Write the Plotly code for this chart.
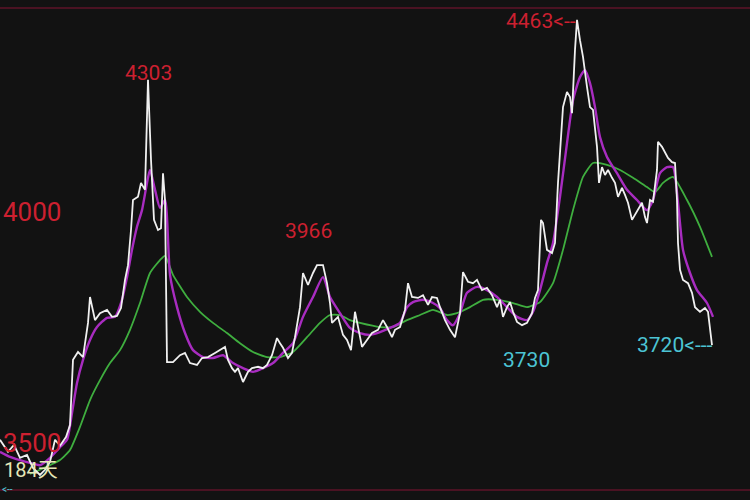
import plotly.graph_objects as go

# ---- data (day index, price) ----
price_days = [0, 2, 3.5, 5, 6.75, 8.25, 10, 11.25, 12.5, 13.75, 15, 16.5, 17.5, 18.25, 19.5, 20.75,
              22, 22.5, 23.75, 25, 26.75, 28, 29.25, 30.25, 31.25, 32, 32.75, 33.25, 34.5, 35.25,
              36.25, 37, 37.75, 38.5, 39.5, 40.25, 40.75, 41.25, 41.75, 43.25, 45, 46.25, 47.5,
              49.25, 50.5, 52, 53.75, 55, 56.25, 57, 58, 58.75, 59.5, 60.75, 62, 63, 64.5, 65.75,
              66.75, 68, 69.25, 70, 70.75, 72, 73, 73.75, 75, 75.75, 77, 78.25, 79.25, 80.75, 81.75,
              82.5, 83, 84.5, 85.75, 86.75, 87.75, 88.75, 89.5, 90.5, 91.75, 93, 94.5, 95.75, 96.75,
              98, 98.75, 100, 101.25, 102, 103, 104.5, 105.75, 107, 108, 109.25, 110, 111.25, 112.5,
              113.75, 115, 115.75, 117, 118.25, 119.25, 120.5, 121.75, 123, 124.25, 125, 125.75,
              126.75, 127.5, 128.25, 129.25, 130.5, 131.75, 133, 133.75, 134.5, 135.25, 135.75,
              136.75, 138, 138.75, 139.5, 140.75, 141.75, 142.5, 143, 143.75, 144.25, 145, 145.75,
              146.75, 147.5, 148.25, 149.25, 149.75, 150.5, 151.25, 152, 153, 153.75, 154.5, 155.5,
              156.25, 157, 158, 158.75, 159.5, 160.5, 161.25, 161.75, 162.5, 163.25, 164.25, 164.5,
              165.5, 166.25, 167, 168, 168.75, 169.25, 169.5, 170, 170.75, 172, 173, 173.75, 175,
              176.25, 177, 178]
close_price = [3507, 3481, 3496, 3468, 3474, 3446, 3431, 3442, 3459, 3507, 3494, 3513, 3539, 3680,
               3697, 3686, 3760, 3816, 3766, 3781, 3788, 3773, 3775, 3792, 3853, 3885, 3961, 4026,
               4033, 4063, 4048, 4286, 4113, 3983, 3961, 3965, 4084, 4026, 3675, 3675, 3690, 3695,
               3673, 3669, 3684, 3686, 3695, 3701, 3708, 3680, 3662, 3654, 3662, 3632, 3654, 3662,
               3665, 3662, 3669, 3690, 3727, 3716, 3706, 3684, 3695, 3729, 3794, 3868, 3842, 3868,
               3885, 3885, 3846, 3803, 3760, 3773, 3734, 3723, 3701, 3784, 3751, 3708, 3723, 3738,
               3745, 3766, 3751, 3729, 3745, 3751, 3788, 3846, 3816, 3814, 3820, 3799, 3816, 3814,
               3794, 3766, 3745, 3729, 3781, 3870, 3849, 3846, 3853, 3831, 3836, 3820, 3794, 3810,
               3773, 3794, 3805, 3784, 3762, 3755, 3760, 3781, 3814, 3831, 3983, 3976, 3918, 3911,
               3933, 4063, 4227, 4260, 4249, 4214, 4351, 4416, 4372, 4336, 4271, 4227, 4221, 4141,
               4063, 4097, 4080, 4091, 4074, 4063, 4033, 4052, 4037, 4020, 3983, 3994, 4004, 4020,
               3989, 3976, 4026, 4022, 4091, 4152, 4141, 4128, 4117, 4108, 4106, 4026, 3933, 3875,
               3853, 3846, 3825, 3794, 3784, 3792, 3784, 3712]

ma_short_days = [0, 2.5, 5, 7.5, 10, 12.5, 15, 16.75, 18, 19.25, 20.75, 22.5, 24.25, 26.75, 28.75,
                 30.5, 31.75, 33, 34.25, 35.5, 36.75, 37.5, 38.75, 40, 41.25, 42.5, 44.25, 46.25,
                 48.25, 50.75, 53.25, 55.75, 58.25, 60.75, 63.25, 65.75, 68.25, 70.75, 73.25, 75.75,
                 78.25, 80.75, 82.5, 85, 87.5, 90, 92.5, 95, 97.5, 100, 101.75, 103.25, 105.75,
                 108.25, 110, 111.75, 113.25, 115, 116.75, 119.25, 121.75, 124.25, 126.75, 129.25,
                 131.75, 133.25, 135, 136.75, 138.25, 140, 141.75, 143.25, 145, 146.25, 147.5,
                 148.75, 150, 151.75, 154.25, 156.75, 159.25, 161.75, 163.25, 165, 166.75, 168.25,
                 169.5, 170.75, 172.5, 174.25, 176.75, 178.25]
ma_short = [3481, 3470, 3463, 3457, 3452, 3468, 3491, 3507, 3565, 3630, 3680, 3723, 3751, 3771,
            3773, 3810, 3859, 3918, 3968, 4004, 4063, 4091, 4048, 4009, 4026, 3864, 3794, 3738,
            3701, 3686, 3684, 3690, 3673, 3662, 3654, 3662, 3673, 3695, 3716, 3773, 3816, 3859,
            3816, 3781, 3749, 3738, 3734, 3740, 3749, 3760, 3794, 3805, 3810, 3803, 3792, 3766,
            3755, 3781, 3825, 3838, 3831, 3816, 3794, 3773, 3766, 3784, 3831, 3890, 3933, 4033,
            4149, 4242, 4292, 4307, 4279, 4227, 4162, 4119, 4084, 4048, 4026, 4004, 4026, 4084,
            4097, 4097, 4020, 3918, 3868, 3831, 3803, 3773]

ma_long_days = [7.5, 10, 12.5, 15, 17.5, 20, 22.5, 25, 27.5, 30, 32.5, 35, 37.5, 40, 41.25, 43.25,
                46.75, 50, 53.25, 56.75, 60, 63.25, 66.75, 70, 73.25, 76.75, 80, 82.5, 85, 87.5,
                90, 95, 98.25, 101.75, 105, 108.25, 111.75, 114.25, 117.5, 120.75, 124.25, 128.25,
                131.75, 135, 138.25, 140.75, 143.25, 145.75, 148.25, 151.75, 155, 158.25, 161.75,
                163.75, 165.75, 168.25, 171.75, 175, 178]
ma_long = [3433, 3442, 3452, 3463, 3485, 3535, 3593, 3636, 3673, 3701, 3745, 3803, 3868, 3896,
           3905, 3864, 3816, 3784, 3760, 3738, 3716, 3697, 3686, 3686, 3697, 3729, 3760, 3777,
           3777, 3766, 3760, 3751, 3751, 3766, 3777, 3788, 3777, 3781, 3794, 3810, 3810, 3803,
           3794, 3805, 3846, 3918, 4004, 4076, 4106, 4102, 4091, 4074, 4054, 4043, 4063, 4076,
           4026, 3968, 3903]

tick_values = [3500, 4000]
tick_labels = ["3500", "4000"]

# labels: (text, day, price)
high_labels = [("4303", 37.0, 4301), ("3966", 77.0, 3959)]
peak_label = ("4463<--", 144.4, 4414)
low_labels = [("3730", 131.5, 3680)]
last_label = ("3720<---", 178.4, 3712)
period_label = "184天"

# ---- figure ----
RED = "#cc2030"
CYAN = "#4cc4d4"
BG = "#121212"
FONT = "Roboto"

fig = go.Figure()
fig.add_trace(go.Scatter(x=ma_long_days, y=ma_long, mode="lines",
                         line=dict(color="#3fae3f", width=1.8, shape="spline", smoothing=0.5),
                         hoverinfo="skip"))
fig.add_trace(go.Scatter(x=ma_short_days, y=ma_short, mode="lines",
                         line=dict(color="#a82cc0", width=2.4, shape="spline", smoothing=0.6),
                         hoverinfo="skip"))
fig.add_trace(go.Scatter(x=price_days, y=close_price, mode="lines",
                         line=dict(color="#f0f0f0", width=1.8), hoverinfo="skip"))

ann = []
for t, d, p in high_labels:
    ann.append(dict(x=d, y=p, text=t, showarrow=False, xanchor="center", yanchor="middle",
                    font=dict(color=RED, size=21, family=FONT)))
ann.append(dict(x=peak_label[1], y=peak_label[2], text=peak_label[0], showarrow=False,
                xanchor="right", yanchor="middle", font=dict(color=RED, size=21, family=FONT)))
for t, d, p in low_labels:
    ann.append(dict(x=d, y=p, text=t, showarrow=False, xanchor="center", yanchor="middle",
                    font=dict(color=CYAN, size=21, family=FONT)))
ann.append(dict(x=last_label[1], y=last_label[2], text=last_label[0], showarrow=False,
                xanchor="right", yanchor="middle", font=dict(color=CYAN, size=21, family=FONT)))
ann.append(dict(x=0.4, y=3441, text=period_label, showarrow=False, xanchor="left",
                yanchor="middle", font=dict(color="#e6e8b8", size=20, family="Roboto, Noto Sans CJK SC")))
ann.append(dict(x=0, y=3399, text="<--", showarrow=False, xanchor="left", yanchor="middle",
                font=dict(color=CYAN, size=10, family=FONT)))

fig.update_layout(
    width=750, height=500,
    margin=dict(l=0, r=0, t=0, b=0),
    paper_bgcolor=BG, plot_bgcolor=BG,
    showlegend=False,
    annotations=ann,
    xaxis=dict(range=[0, 187.5], showgrid=False, zeroline=False, showticklabels=False,
               showline=False, fixedrange=True),
    yaxis=dict(range=[3376.6, 4458.9], showgrid=False, zeroline=False, showline=False,
               tickvals=tick_values, ticktext=tick_labels, ticklabelposition="inside",
               ticks="", tickfont=dict(color=RED, size=26, family=FONT), fixedrange=True),
    shapes=[
        dict(type="line", xref="paper", yref="paper", x0=0, x1=1, y0=0.984, y1=0.984,
             line=dict(color="#4a1222", width=2)),
        dict(type="line", xref="paper", yref="paper", x0=0, x1=1, y0=0.02, y1=0.02,
             line=dict(color="#4a1222", width=2)),
    ],
)

fig.write_html("out.html", config={"displayModeBar": False},
               post_script="document.body.style.margin='0';document.body.style.background='#121212';")
